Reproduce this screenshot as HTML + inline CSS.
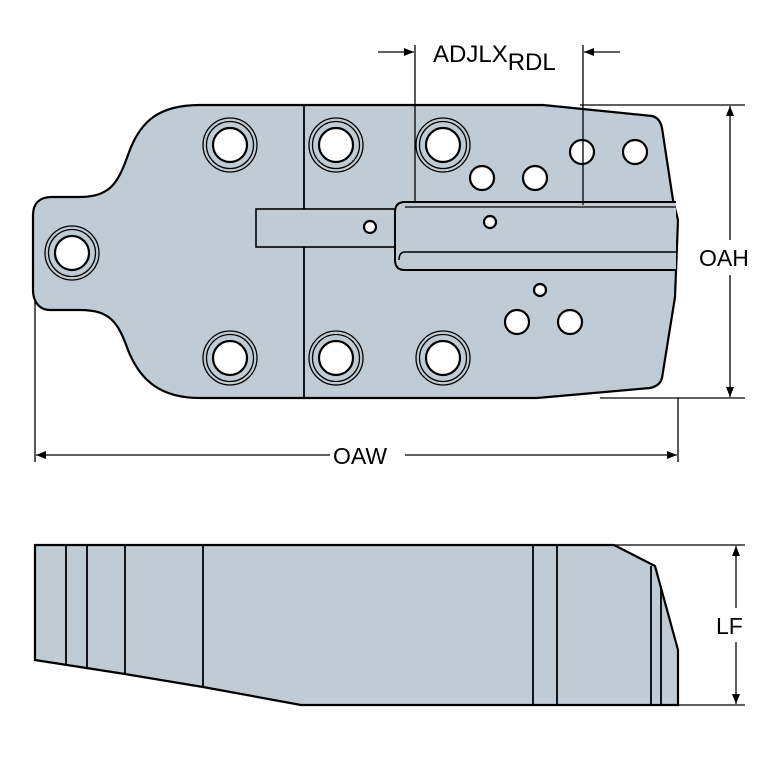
<!DOCTYPE html>
<html><head><style>body{margin:0;background:#fff}svg{display:block}</style></head><body>
<svg width="767" height="767" viewBox="0 0 767 767" xmlns="http://www.w3.org/2000/svg" font-family="Liberation Sans, sans-serif">
<defs>
<marker id="a" markerWidth="10" markerHeight="8" refX="10" refY="4" orient="auto" markerUnits="userSpaceOnUse"><path d="M0,0 L10,4 L0,8 Z" fill="#000"/></marker>
</defs>
<path d="M200,105 L543,105 L652,116 Q660,118 662,128 L673,200 L678,220 L675,297 L662,378 Q660,386 650,388 L537,398 L200,398 C160,398 140,380 128,350 C118,322 110,310 80,310 L50,310 C38,310 33,300 33,290 L33,215 C33,203 40,197 52,197 L80,197 C110,197 118,183 128,155 C140,120 160,105 200,105 Z" fill="#c0ccd5" stroke="#000" stroke-width="2.2"/>
<line x1="304" y1="105" x2="304" y2="398" stroke="#000" stroke-width="1.8"/>
<rect x="256" y="209" width="146" height="38" fill="#c0ccd5" stroke="#000" stroke-width="1.6"/>
<path d="M676,202 L405,202 Q395,202 395,212 L395,260 Q395,270 405,270 L676,270" fill="#c0ccd5" stroke="#000" stroke-width="2"/>
<line x1="405" y1="207" x2="676" y2="207" stroke="#000" stroke-width="1.3"/>
<path d="M676,252 L405,252 Q399,252 399,260" fill="none" stroke="#000" stroke-width="1.5"/>
<g fill="#fff" stroke="#000" stroke-width="1.3">
<g fill="none"><circle cx="230" cy="145" r="27"/><circle cx="230" cy="145" r="23.5"/><circle cx="336" cy="145" r="27"/><circle cx="336" cy="145" r="23.5"/><circle cx="443" cy="145" r="27"/><circle cx="443" cy="145" r="23.5"/><circle cx="72" cy="253" r="27"/><circle cx="72" cy="253" r="23.5"/><circle cx="230" cy="358" r="27"/><circle cx="230" cy="358" r="23.5"/><circle cx="336" cy="358" r="27"/><circle cx="336" cy="358" r="23.5"/><circle cx="443" cy="358" r="27"/><circle cx="443" cy="358" r="23.5"/></g>
<g stroke-width="2.2"><circle cx="230" cy="145" r="17"/><circle cx="336" cy="145" r="17"/><circle cx="443" cy="145" r="17"/><circle cx="72" cy="253" r="17"/><circle cx="230" cy="358" r="17"/><circle cx="336" cy="358" r="17"/><circle cx="443" cy="358" r="17"/>
<circle cx="482" cy="178" r="12"/><circle cx="535" cy="178" r="12"/><circle cx="582" cy="152" r="12"/><circle cx="635" cy="152" r="12"/><circle cx="517" cy="322" r="12"/><circle cx="570" cy="322" r="12"/>
<circle cx="490" cy="222" r="6"/><circle cx="540" cy="290" r="6"/><circle cx="370" cy="227" r="6"/></g>
</g>
<g stroke="#000" stroke-width="1.3" fill="none">
<line x1="415" y1="45" x2="415" y2="202"/><line x1="583" y1="45" x2="583" y2="205"/>
<line x1="378" y1="52" x2="414" y2="52" marker-end="url(#a)"/><line x1="620" y1="52" x2="584" y2="52" marker-end="url(#a)"/>
<line x1="580" y1="105" x2="745" y2="105"/><line x1="600" y1="398" x2="745" y2="398"/>
<line x1="730" y1="240" x2="730" y2="106" marker-end="url(#a)"/><line x1="730" y1="275" x2="730" y2="397" marker-end="url(#a)"/>
<line x1="35" y1="300" x2="35" y2="462"/><line x1="678" y1="398" x2="678" y2="462"/>
<line x1="330" y1="455" x2="36" y2="455" marker-end="url(#a)"/><line x1="405" y1="455" x2="677" y2="455" marker-end="url(#a)"/>
</g>
<text x="433" y="62" font-size="24">ADJLX<tspan dy="8">RDL</tspan></text>
<text x="699" y="266" font-size="23">OAH</text>
<text x="333" y="464" font-size="23">OAW</text>
<path d="M35,545 L614,545 L655,566 L678,650 L678,705 L301,705 L203,687 L125,674 L35,660 Z" fill="#c0ccd5" stroke="#000" stroke-width="2.2"/>
<g stroke="#000" stroke-width="1.8">
<line x1="66" y1="545" x2="66" y2="665"/><line x1="87" y1="545" x2="87" y2="668"/><line x1="125" y1="545" x2="125" y2="674"/><line x1="203" y1="545" x2="203" y2="687"/>
<line x1="533" y1="545" x2="533" y2="705"/><line x1="557" y1="545" x2="557" y2="705"/><line x1="651" y1="566" x2="651" y2="705"/><line x1="661" y1="586" x2="661" y2="705"/>
</g>
<g stroke="#000" stroke-width="1.3" fill="none">
<line x1="614" y1="545" x2="745" y2="545"/><line x1="678" y1="705" x2="745" y2="705"/>
<line x1="736" y1="608" x2="736" y2="546" marker-end="url(#a)"/><line x1="736" y1="642" x2="736" y2="704" marker-end="url(#a)"/>
</g>
<text x="716" y="634" font-size="23">LF</text>
</svg>
</body></html>
